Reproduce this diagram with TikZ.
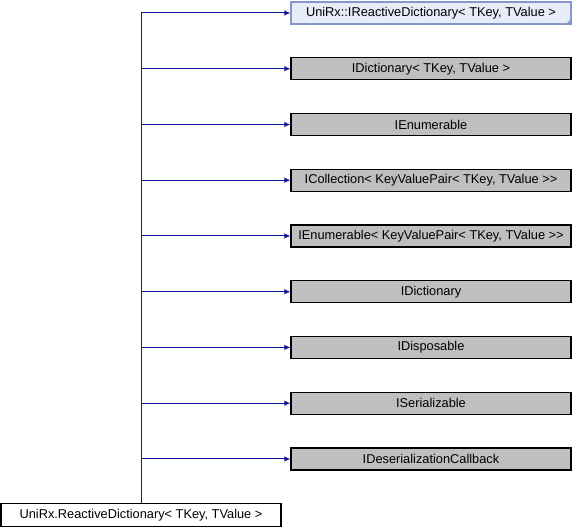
\documentclass[tikz,border=0pt]{standalone}
\usepackage{fontspec}
\setmainfont{Liberation Sans}
\usepackage{tikz}
\usetikzlibrary{positioning,calc,arrows.meta}
\definecolor{edgeblue}{RGB}{20,20,150}
\definecolor{extfill}{RGB}{232,236,248}
\definecolor{extdraw}{RGB}{132,150,204}
\definecolor{boxgray}{RGB}{191,191,191}
\tikzstyle{cls} = [draw=black,fill=boxgray,rectangle,line width=0.8pt,minimum width=210pt,minimum height=16.5pt,inner sep=0pt,font=\fontsize{9.6pt}{11.5pt}\selectfont]
\tikzstyle{extcls} = [cls,draw=extdraw,fill=extfill]
\tikzstyle{basecls} = [cls,fill=white,minimum height=17.5pt]
\tikzstyle{inherit} = [edgeblue,line width=0.75pt,-{Latex[length=4.5pt,width=4pt]}]

\begin{document}
\begin{tikzpicture}[x=0.75pt,y=-0.75pt,node distance=41.81pt,on grid]
    \useasboundingbox (0,0) rectangle (572,528);
   	\node[extcls](c_0) at (431,13) {UniRx::IReactiveDictionary< TKey, TValue >};
   	\node[cls](c_1)[below=of c_0]{IDictionary< TKey, TValue >};
   	\node[cls](c_2)[below=of c_1]{IEnumerable};
   	\node[cls](c_3)[below=of c_2]{ICollection< KeyValuePair< TKey, TValue >{}>};
   	\node[cls](c_4)[below=of c_3]{IEnumerable< KeyValuePair< TKey, TValue >{}>};
   	\node[cls](c_5)[below=of c_4]{IDictionary};
   	\node[cls](c_6)[below=of c_5]{IDisposable};
   	\node[cls](c_7)[below=of c_6]{ISerializable};
   	\node[cls](c_8)[below=of c_7]{IDeserializationCallback};
   	\node[basecls](dict) at (141,515) {UniRx.ReactiveDictionary< TKey, TValue >};
    % folded corner of the external class
    \fill[extdraw] (c_0.south east) -- ++(-6,0) -- ++(6,-6) -- cycle;
    \foreach \i in {0,...,8}
      \draw[inherit] (dict.north) |- (c_\i.west);
\end{tikzpicture}
\end{document}
